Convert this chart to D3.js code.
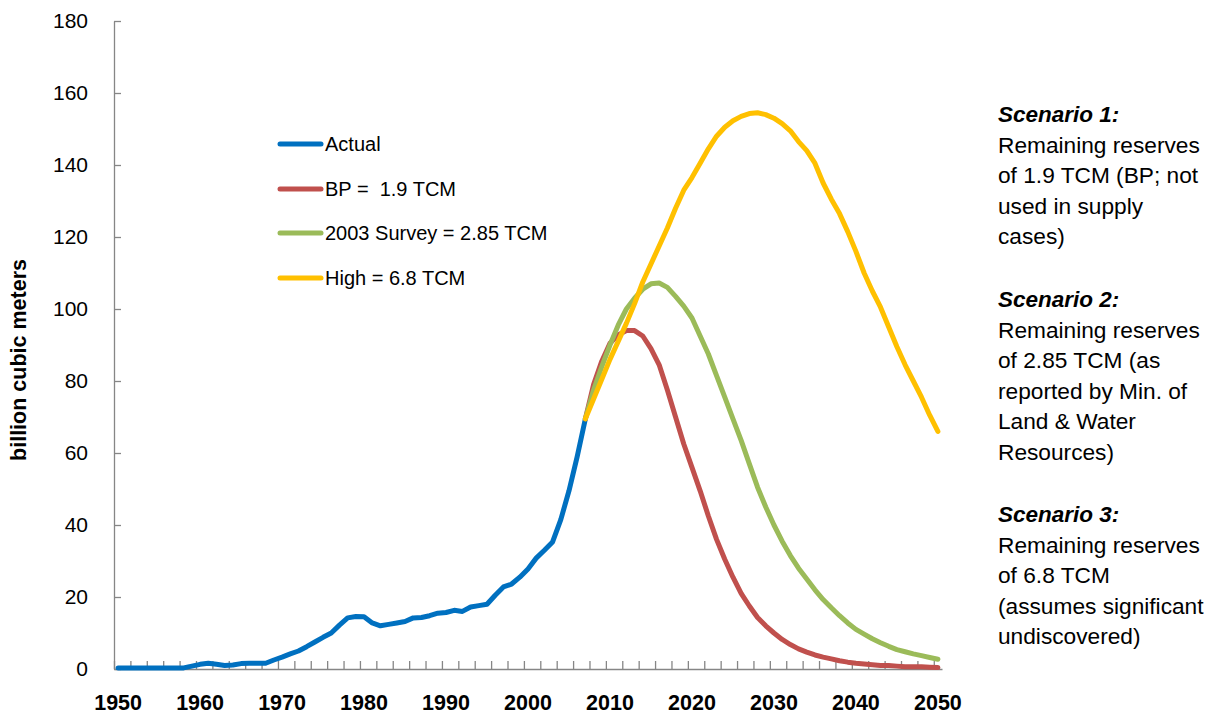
<!DOCTYPE html>
<html>
<head>
<meta charset="utf-8">
<script src="https://cdn.jsdelivr.net/npm/d3@7"></script>
<style>
  html, body { margin: 0; padding: 0; background: #fff; }
  svg { display: block; font-family: "Liberation Sans", Arial, sans-serif; }
</style>
</head>
<body>
<svg id="chart" width="1209" height="723"></svg>
<script>
// ---- Data ----
const actualYears = d3.range(1950, 2008);
const actualValues = [
  0.3, 0.3, 0.3, 0.3, 0.3, 0.3, 0.3, 0.3, 0.3, 0.8,   // 1950-1959
  1.3, 1.6, 1.3, 1.0, 1.1, 1.5, 1.6, 1.6, 1.6, 2.5,   // 1960-1969
  3.3, 4.2, 5.0, 6.2, 7.5, 8.8, 10.0, 12.2, 14.2, 14.6, // 1970-1979
  14.5, 12.8, 12.0, 12.4, 12.8, 13.2, 14.2, 14.3, 14.8, 15.5, // 1980-1989
  15.7, 16.3, 16.0, 17.2, 17.6, 18.0, 20.5, 22.8, 23.6, 25.5, // 1990-1999
  27.8, 30.8, 33.0, 35.3, 41.5, 49.5, 59.0, 69.5      // 2000-2007
];
const forecastYears = d3.range(2007, 2051);
const bpValues = [
  69.5, 79, 85.5, 90.5, 92.8, 94, 94, 92.5, 89, 84.5,  // 2007-2016
  77.5, 70, 62.5, 56, 49.5, 42.5, 36, 30.5, 25.5, 21,  // 2017-2026
  17.5, 14.3, 12, 10, 8.2, 6.8, 5.6, 4.7, 3.9, 3.3,    // 2027-2036
  2.8, 2.3, 1.9, 1.6, 1.4, 1.2, 1.0, 1.0, 0.8, 0.6,    // 2037-2046
  0.6, 0.6, 0.5, 0.4                                   // 2047-2050
];
const surveyValues = [
  69.5, 77.5, 84, 90, 95.5, 100, 103, 105.5, 107, 107.2, // 2007-2016
  106, 103.5, 100.8, 97.5, 92.5, 87.5, 81.5, 75.5, 69.5, 63.5, // 2017-2026
  57, 50.5, 45, 40, 35.5, 31.5, 28, 25, 22, 19.3,      // 2027-2036
  17, 14.8, 12.8, 11, 9.7, 8.4, 7.3, 6.3, 5.4, 4.8,    // 2037-2046
  4.2, 3.7, 3.2, 2.7                                   // 2047-2050
];
const highValues = [
  69.5, 75, 80.5, 86, 91, 96, 101.5, 107.5, 112.5, 117.5, // 2007-2016
  122.5, 128, 133, 136.5, 140.5, 144.5, 148, 150.5, 152.3, 153.5, // 2017-2026
  154.3, 154.5, 154, 153, 151.5, 149.5, 146.5, 144, 140.5, 135, // 2027-2036
  130.5, 126.5, 121.5, 116, 110, 105, 100.5, 95, 89.5, 84.5,    // 2037-2046
  80, 75.5, 70.5, 66                                            // 2047-2050
];
const seriesNames = ["Actual", "BP =  1.9 TCM", "2003 Survey = 2.85 TCM", "High = 6.8 TCM"];
const seriesColors = ["#0070C0", "#C0504D", "#9BBB59", "#FFC000"];
const yTicks = [0, 20, 40, 60, 80, 100, 120, 140, 160, 180];
const xLabelYears = [1950, 1960, 1970, 1980, 1990, 2000, 2010, 2020, 2030, 2040, 2050];
const yAxisTitle = "billion cubic meters";
const notes = [
  {title: "Scenario 1:", lines: ["Remaining reserves", "of 1.9 TCM (BP; not", "used in supply", "cases)"]},
  {title: "Scenario 2:", lines: ["Remaining reserves", "of 2.85 TCM (as", "reported by Min. of", "Land & Water", "Resources)"]},
  {title: "Scenario 3:", lines: ["Remaining reserves", "of 6.8 TCM", "(assumes significant", "undiscovered)"]}
];

// ---- Layout ----
const svg = d3.select("#chart");
const plot = {left: 114, right: 942, top: 21, bottom: 669};
const x = d3.scaleLinear().domain([1949.5, 2050.5]).range([plot.left, plot.right]);
const y = d3.scaleLinear().domain([0, 180]).range([plot.bottom, plot.top]);
const axisColor = "#868686";

// Y axis
const yAxis = d3.axisLeft(y).tickValues(yTicks).tickSizeInner(-7).tickSizeOuter(0).tickPadding(26);
const gy = svg.append("g").attr("transform", `translate(${plot.left},0)`).call(yAxis);
gy.select(".domain").attr("stroke", axisColor).attr("stroke-width", 1.3);
gy.selectAll(".tick line").attr("stroke", axisColor).attr("stroke-width", 1.3);
gy.selectAll(".tick text").attr("font-size", 21).attr("fill", "#000")
  .attr("font-family", "'Liberation Sans', Arial, sans-serif");

// X axis: minor ticks every 2 categories at boundaries, labels every 10 years
const boundaries = d3.range(0, 51).map(k => 1949.5 + 2 * k);
const xAxis = d3.axisBottom(x).tickValues(boundaries).tickSizeInner(-8).tickSizeOuter(0).tickFormat("");
const gx = svg.append("g").attr("transform", `translate(0,${plot.bottom})`).call(xAxis);
gx.select(".domain").attr("stroke", axisColor).attr("stroke-width", 1.3);
gx.selectAll(".tick line").attr("stroke", axisColor).attr("stroke-width", 1.3);

svg.append("g").selectAll("text").data(xLabelYears).join("text")
  .attr("x", d => x(d)).attr("y", 703)
  .attr("text-anchor", "middle").attr("dominant-baseline", "central")
  .attr("font-size", 21.5).attr("font-weight", "bold").attr("fill", "#000")
  .text(d => d);

// Y axis title
svg.append("text")
  .attr("transform", "translate(19,360) rotate(-90)")
  .attr("text-anchor", "middle").attr("dominant-baseline", "central")
  .attr("font-size", 21.5).attr("font-weight", "bold").attr("fill", "#000")
  .text(yAxisTitle);

// ---- Lines ----
const line = d3.line().x(d => x(d[0])).y(d => y(d[1]));
const series = [
  actualYears.map((yr, i) => [yr, actualValues[i]]),
  forecastYears.map((yr, i) => [yr, bpValues[i]]),
  forecastYears.map((yr, i) => [yr, surveyValues[i]]),
  forecastYears.map((yr, i) => [yr, highValues[i]])
];
svg.append("g").selectAll("path").data(series).join("path")
  .attr("d", line)
  .attr("fill", "none")
  .attr("stroke", (d, i) => seriesColors[i])
  .attr("stroke-width", 5)
  .attr("stroke-linejoin", "round")
  .attr("stroke-linecap", "round");

// ---- Legend ----
const legendY = [144, 189, 233, 278];
const lg = svg.append("g").selectAll("g").data(seriesNames).join("g")
  .attr("transform", (d, i) => `translate(0,${legendY[i]})`);
lg.append("line").attr("x1", 280).attr("x2", 321).attr("y1", 0).attr("y2", 0)
  .attr("stroke", (d, i) => seriesColors[i]).attr("stroke-width", 5).attr("stroke-linecap", "round");
lg.append("text").attr("x", 325).attr("y", 0).attr("dominant-baseline", "central")
  .attr("font-size", 20).attr("fill", "#000").style("white-space", "pre")
  .text(d => d);

// ---- Notes on the right ----
const noteStart = [114, 299, 514];
const lineH = 30.6;
notes.forEach((n, k) => {
  const g = svg.append("g").attr("transform", `translate(998,${noteStart[k]})`);
  g.append("text").attr("x", 0).attr("y", 0).attr("dominant-baseline", "central")
    .attr("font-size", 22.5).attr("font-weight", "bold").attr("font-style", "italic").attr("fill", "#000")
    .text(n.title);
  g.selectAll("text.l").data(n.lines).join("text").attr("class", "l")
    .attr("x", 0).attr("y", (d, i) => (i + 1) * lineH).attr("dominant-baseline", "central")
    .attr("font-size", 22.7).attr("fill", "#000")
    .text(d => d);
});
</script>
</body>
</html>
